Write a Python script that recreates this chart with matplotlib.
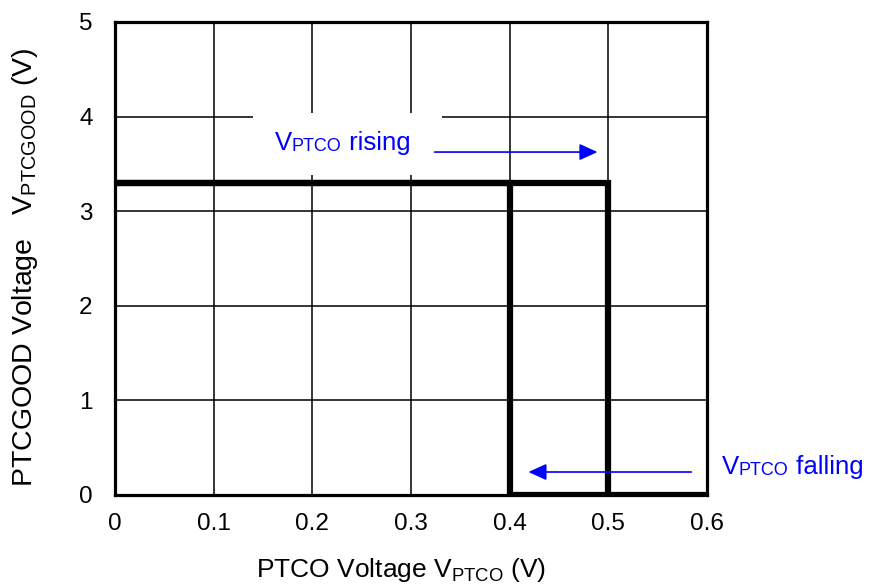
import matplotlib
matplotlib.use("Agg")
import matplotlib.pyplot as plt
from matplotlib.patches import Rectangle

plt.rcParams['font.family'] = ['Liberation Sans', 'DejaVu Sans']
plt.rcParams['mathtext.fontset'] = 'custom'
plt.rcParams['mathtext.rm'] = 'Liberation Sans'

x_ticks = [0, 0.1, 0.2, 0.3, 0.4, 0.5, 0.6]
x_tick_labels = ["0", "0.1", "0.2", "0.3", "0.4", "0.5", "0.6"]
y_ticks = [0, 1, 2, 3, 4, 5]
rising_x = [0, 0.5, 0.5]
rising_y = [3.3, 3.3, 0]
falling_x = [0, 0.4, 0.4, 0.6]
falling_y = [3.3, 3.3, 0, 0]

fig = plt.figure(figsize=(8.69, 5.86), dpi=100)
ax = fig.add_axes([0.1323, 0.1553, 0.6813, 0.8072])
ax.set_xlim(0, 0.6)
ax.set_ylim(0, 5)
ax.set_xticks(x_ticks)
ax.set_xticklabels(x_tick_labels)
ax.set_yticks(y_ticks)
ax.tick_params(length=0, labelsize=17.5)
ax.tick_params(axis='x', pad=13)
ax.tick_params(axis='y', pad=16)
ax.grid(True, color='black', linewidth=1.1)
for s in ax.spines.values():
    s.set_linewidth(2.3)

ax.plot(falling_x, falling_y, color='black', linewidth=4.5, solid_joinstyle='miter', zorder=3)
ax.plot(rising_x, rising_y, color='black', linewidth=4.5, solid_joinstyle='miter', zorder=3)

# white box behind label
ax.add_patch(Rectangle((0.140, 3.38), 0.191, 0.66, facecolor='white', edgecolor='none', zorder=2.5))

blue = '#0000FF'
big, small = 18.5, 13
arrow_style = '-|>,head_length=1.1,head_width=0.5'
# rising label
t1 = ax.text(0.162, 3.647, "V", color=blue, fontsize=big, va='baseline', zorder=4)
t2 = ax.annotate("PTCO", xy=(1, 0), xycoords=t1, va='bottom', ha='left', color=blue, fontsize=small, zorder=4)
ax.annotate(" rising", xy=(1, 0), xycoords=t2, va='bottom', ha='left', color=blue, fontsize=big, zorder=4)
ax.annotate("", xy=(0.489, 3.625), xytext=(0.324, 3.625),
            arrowprops=dict(arrowstyle=arrow_style, color=blue, lw=1.2, shrinkA=0, shrinkB=0), zorder=4)

# falling label
f1 = ax.text(0.615, 0.222, "V", color=blue, fontsize=big, va='baseline', clip_on=False)
f2 = ax.annotate("PTCO", xy=(1, 0), xycoords=f1, va='bottom', ha='left', color=blue, fontsize=small, annotation_clip=False)
ax.annotate(" falling", xy=(1, 0), xycoords=f2, va='bottom', ha='left', color=blue, fontsize=big, annotation_clip=False)
ax.annotate("", xy=(0.419, 0.243), xytext=(0.584, 0.243),
            arrowprops=dict(arrowstyle=arrow_style, color=blue, lw=1.2, shrinkA=0, shrinkB=0), zorder=4)

ax.set_xlabel("PTCO Voltage V$_{\\mathrm{PTCO}}$ (V)", fontsize=19)
ax.set_ylabel("PTCGOOD Voltage   V$_{\\mathrm{PTCGOOD}}$ (V)", fontsize=20.5)
ax.xaxis.set_label_coords(0.483, -0.129)
ax.yaxis.set_label_coords(-0.127, 0.482)

fig.savefig("out.png", dpi=100)
